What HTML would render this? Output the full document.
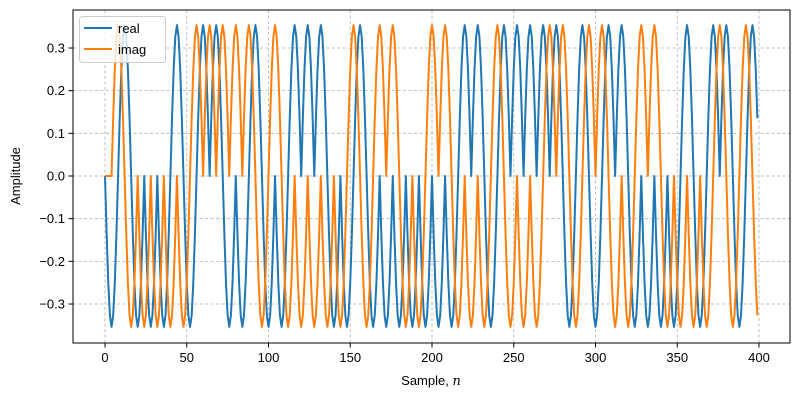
<!DOCTYPE html>
<html><head><meta charset="utf-8"><style>
html,body{margin:0;padding:0;background:#fff;}
svg{display:block;font-family:"Liberation Sans","DejaVu Sans",sans-serif;}
</style></head><body>
<svg id="s" width="800" height="400" viewBox="0 0 800 400" xmlns="http://www.w3.org/2000/svg">
<rect width="800" height="400" fill="#fff"/>
<defs><clipPath id="c"><rect x="73" y="10" width="717" height="333"/></clipPath></defs>
<g id="grid" stroke="#b0b0b0" stroke-width="0.8" stroke-dasharray="3,2.5"></g>
<g id="lines" clip-path="url(#c)" fill="none" stroke-width="2" stroke-linejoin="round"></g>
<rect x="73" y="10" width="717" height="333" fill="none" stroke="#000" stroke-width="1"/>
<g id="ticks" stroke="#000" stroke-width="1"></g>
<g id="labels" font-size="13" fill="#000"></g>
<text x="431" y="385" font-size="13" text-anchor="middle">Sample, <tspan font-style="italic" font-family="DejaVu Serif, Liberation Serif, serif">n</tspan></text>
<text transform="translate(20,176) rotate(-90)" font-size="13" text-anchor="middle">Amplitude</text>
<g>
<rect x="79.5" y="16.5" width="86" height="46" rx="3" fill="#fff" fill-opacity="0.8" stroke="#ccc" stroke-width="1"/>
<line x1="84" y1="28" x2="112" y2="28" stroke="#1f77b4" stroke-width="2"/>
<line x1="84" y1="49" x2="112" y2="49" stroke="#ff7f0e" stroke-width="2"/>
<text x="118" y="33" font-size="13">real</text>
<text x="118" y="54" font-size="13">imag</text>
</g>
</svg>
<script>
var NS="http://www.w3.org/2000/svg";
function el(p,t,a){var e=document.createElementNS(NS,t);for(var k in a)e.setAttribute(k,a[k]);document.getElementById(p).appendChild(e);return e;}
function X(n){return 105+1.635*n;}
function Y(v){return 176-v*426.7;}
for(var t=0;t<=400;t+=50){var x=X(t);el("grid","line",{x1:x,y1:10,x2:x,y2:343});el("ticks","line",{x1:x,y1:343,x2:x,y2:347.5});var tx=el("labels","text",{x:x,y:362,"text-anchor":"middle"});tx.textContent=t;}
for(var i=-3;i<=3;i++){var y=Y(i/10);el("grid","line",{x1:73,y1:y,x2:790,y2:y});el("ticks","line",{x1:68.5,y1:y,x2:73,y2:y});var ty=el("labels","text",{x:65,y:y+4.5,"text-anchor":"end"});ty.textContent=(i<0?"\u2212":"")+Math.abs(i/10).toFixed(1);}
var seq="R- I+ R+ I- R- I- R- I- R- I- R+ I- R- I+ R+ I+ R+ I+ R- I+ R- I+ R+ I- R- I+ R- I- R+ I- R+ I- R+ I- R- I- R- I+ R+ I- R- I+ R- I+ R- I- R- I- R- I+ R- I+ R- I- R+ I- R+ I- R- I+ R+ I- R+ I- R+ I- R+ I+ R+ I+ R- I- R+ I+ R- I+ R+ I- R+ I- R- I+ R- I+ R- I- R- I- R+ I- R- I- R+ I+ R+ I- R- I+ R+ I-".split(" ");
var map={"R+":0,"I+":90,"R-":180,"I-":270};
var ph=seq.map(function(s){return map[s];});
var A=0.35355;
var re=[],im=[];
for(var n=0;n<400;n++){
 if(n<4){re.push(-A*Math.sin(Math.PI*n/8));im.push(0);continue;}
 var k=Math.floor(n/4),f=(n-4*k)/4;
 var a=ph[k-1],b=ph[k];var d=((b-a+540)%360)-180;
 var p=(a+d*f)*Math.PI/180;
 re.push(A*Math.cos(p));im.push(A*Math.sin(p));
}
function poly(arr,col){var pts=arr.map(function(v,i){return X(i).toFixed(2)+","+Y(v).toFixed(2);}).join(" ");el("lines","polyline",{points:pts,stroke:col});}
poly(re,"#1f77b4");poly(im,"#ff7f0e");
</script>
</body></html>
